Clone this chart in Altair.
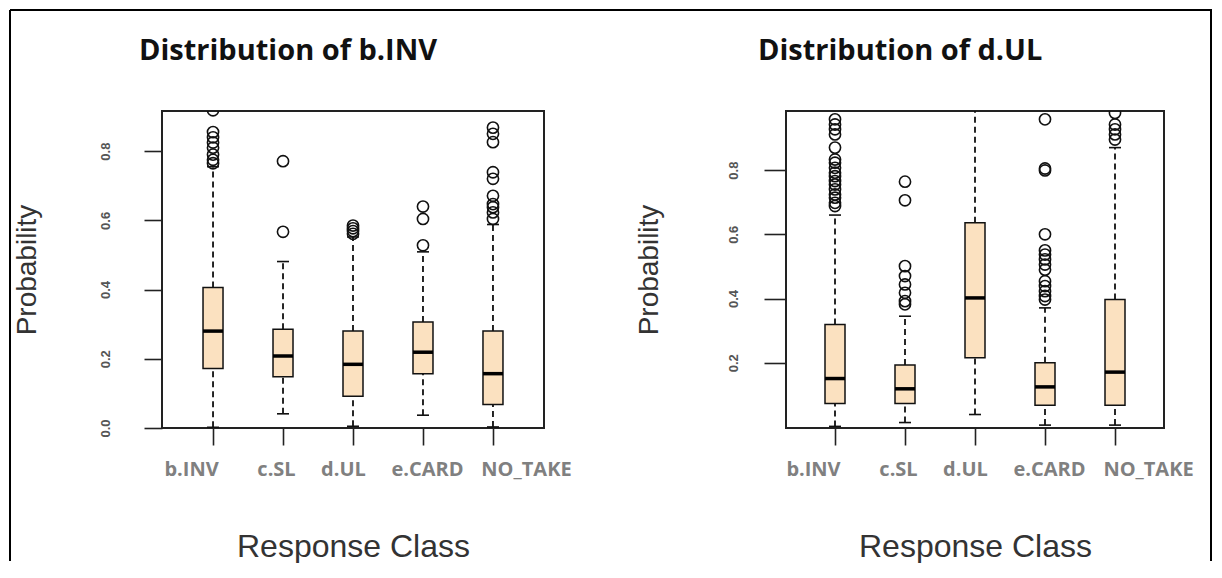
import altair as alt
import pandas as pd

classes = ["b.INV", "c.SL", "d.UL", "e.CARD", "NO_TAKE"]

# ---- Panel 1: Distribution of b.INV ----
inv_q1 = [0.172, 0.148, 0.092, 0.157, 0.068]
inv_med = [0.280, 0.208, 0.184, 0.219, 0.157]
inv_q3 = [0.406, 0.285, 0.280, 0.306, 0.280]
inv_lo = [0.002, 0.041, 0.005, 0.037, 0.003]
inv_hi = [0.755, 0.481, 0.552, 0.509, 0.588]
inv_out_binv = [0.918, 0.855, 0.84, 0.825, 0.81, 0.79, 0.775, 0.765]
inv_out_csl = [0.771, 0.567]
inv_out_dul = [0.585, 0.577, 0.569, 0.561]
inv_out_ecard = [0.640, 0.604, 0.528]
inv_out_notake = [0.868, 0.85, 0.826, 0.739, 0.72, 0.671, 0.647, 0.638, 0.623, 0.604]

# ---- Panel 2: Distribution of d.UL ----
ul_q1 = [0.073, 0.073, 0.216, 0.068, 0.068]
ul_med = [0.151, 0.119, 0.402, 0.125, 0.171]
ul_q3 = [0.319, 0.193, 0.636, 0.200, 0.397]
ul_lo = [0.002, 0.014, 0.039, 0.006, 0.006]
ul_hi = [0.660, 0.345, 0.990, 0.371, 0.870]
ul_out_binv = [0.958, 0.942, 0.927, 0.911, 0.87, 0.833, 0.823, 0.807, 0.792,
               0.781, 0.766, 0.755, 0.74, 0.724, 0.714, 0.698, 0.688]
ul_out_csl = [0.764, 0.706, 0.501, 0.47, 0.444, 0.418, 0.392, 0.382]
ul_out_dul = []
ul_out_ecard = [0.958, 0.805, 0.799, 0.6, 0.55, 0.537, 0.522, 0.506, 0.49,
                0.454, 0.439, 0.423, 0.408, 0.397]
ul_out_notake = [0.978, 0.942, 0.927, 0.911, 0.895]

titles = ["Distribution of b.INV", "Distribution of d.UL"]

BOX_FILL = "#FBE1C0"
INK = "#111111"


def stats_frame(q1, med, q3, lo, hi):
    return pd.DataFrame({"cls": classes, "q1": q1, "med": med, "q3": q3,
                         "lo": lo, "hi": hi})


def outlier_frame(groups):
    rows = []
    for c, vals in zip(classes, groups):
        for v in vals:
            rows.append({"cls": c, "v": v})
    return pd.DataFrame(rows, columns=["cls", "v"])


label_offset = {"condition": [
    {"test": "datum.value === 'b.INV'", "value": -22},
    {"test": "datum.value === 'c.SL'", "value": -7},
    {"test": "datum.value === 'd.UL'", "value": -10},
    {"test": "datum.value === 'e.CARD'", "value": 4},
    {"test": "datum.value === 'NO_TAKE'", "value": 33},
], "value": 0}

one = pd.DataFrame({"k": [0]})


def panel(title, stats, outs, domain, ticks, pad, width, height,
          ytick, ylabpad, ytitle_x, title_dx, extra):
    xenc = alt.X("cls:N", sort=classes,
                 scale=alt.Scale(type="point", padding=pad, domain=classes),
                 axis=alt.Axis(title="Response Class", labelAngle=0,
                               tickSize=17, tickWidth=1.6, tickColor="#222",
                               labelPadding=14, labelFont="Open Sans",
                               labelFontWeight="bold", labelFontSize=20,
                               labelColor="#808080", labelOffset=label_offset,
                               titleFont="Liberation Sans", titleFontSize=32,
                               titleFontWeight="normal", titleColor="#333",
                               titleX=width / 2, titleY=118,
                               titleBaseline="middle",
                               domain=False, grid=False))
    yscale = alt.Scale(domain=domain, nice=False, zero=False)
    yaxis = alt.Axis(title="Probability", values=ticks, format=".1f",
                     tickSize=ytick, tickWidth=1.6, tickColor="#222",
                     labelAngle=270, labelAlign="center",
                     labelBaseline="bottom", labelPadding=ylabpad,
                     labelFont="Liberation Sans", labelFontSize=13,
                     labelFontWeight="bold", labelColor="#555",
                     titleFont="Liberation Sans",
                     titleFontSize=28, titleFontWeight="normal",
                     titleColor="#333", titleAngle=270, titleX=ytitle_x,
                     titleY=height / 2, titleBaseline="middle",
                     domain=False, grid=False)

    base = alt.Chart(stats)
    whisk_lo = base.mark_rule(color=INK, strokeWidth=1.8,
                              strokeDash=[6, 4], clip=True).encode(
        x=xenc, y=alt.Y("lo:Q", scale=yscale, axis=yaxis), y2="q1:Q")
    whisk_hi = base.mark_rule(color=INK, strokeWidth=1.8,
                              strokeDash=[6, 4], clip=True).encode(
        x="cls:N", y="q3:Q", y2="hi:Q")
    cap_lo = base.mark_tick(color=INK, size=12, thickness=1.6, opacity=1,
                            clip=True).encode(x="cls:N", y="lo:Q")
    cap_hi = base.mark_tick(color=INK, size=12, thickness=1.6, opacity=1,
                            clip=True).encode(x="cls:N", y="hi:Q")
    box = base.mark_bar(size=20, fill=BOX_FILL, stroke=INK,
                        strokeWidth=1.5).encode(x="cls:N", y="q1:Q",
                                                y2="q3:Q")
    median = base.mark_tick(color="black", size=20, thickness=3.5,
                            opacity=1).encode(x="cls:N", y="med:Q")
    pts = alt.Chart(outs).mark_point(shape="circle", filled=False,
                                     color=INK, size=125, strokeWidth=1.6,
                                     opacity=1, clip=True).encode(
        x="cls:N", y="v:Q")
    head = alt.Chart(one).mark_text(
        text=title, align="left", baseline="alphabetic", font="Open Sans",
        fontSize=29, fontWeight="bold", color="#111").encode(
        x=alt.value(title_dx), y=alt.value(-51))
    layers = [whisk_lo, whisk_hi, cap_lo, cap_hi, box, median, pts,
              head] + extra
    return alt.layer(*layers).properties(width=width, height=height)


bord = dict(color="black", strokeWidth=2)
top_border = alt.Chart(one).mark_rule(**bord).encode(
    x=alt.value(-152), x2=alt.value(1050), y=alt.value(-101))
left_border = alt.Chart(one).mark_rule(**bord).encode(
    x=alt.value(-152), y=alt.value(-101), y2=alt.value(450))
right_border = alt.Chart(one).mark_rule(**bord).encode(
    x=alt.value(425), y=alt.value(-101), y2=alt.value(450))

left = panel(titles[0],
             stats_frame(inv_q1, inv_med, inv_q3, inv_lo, inv_hi),
             outlier_frame([inv_out_binv, inv_out_csl, inv_out_dul,
                            inv_out_ecard, inv_out_notake]),
             [0, 0.916], [0.0, 0.2, 0.4, 0.6, 0.8], 0.729, 382, 317,
             18, 32, -135, -23, [top_border, left_border])

right = panel(titles[1],
              stats_frame(ul_q1, ul_med, ul_q3, ul_lo, ul_hi),
              outlier_frame([ul_out_binv, ul_out_csl, ul_out_dul,
                             ul_out_ecard, ul_out_notake]),
              [-0.003, 0.984], [0.2, 0.4, 0.6, 0.8], 0.7, 378, 317,
              22, 24, -137, -28, [right_border])

chart = alt.hconcat(left, right, spacing=242, bounds="flush").resolve_scale(
    y="independent").properties(
    padding={"left": 0, "top": 0, "right": 0, "bottom": 0},
    background="white").configure_view(stroke="#222", strokeWidth=2)

chart.save("out.html", embed_options={"renderer": "svg", "actions": False})
